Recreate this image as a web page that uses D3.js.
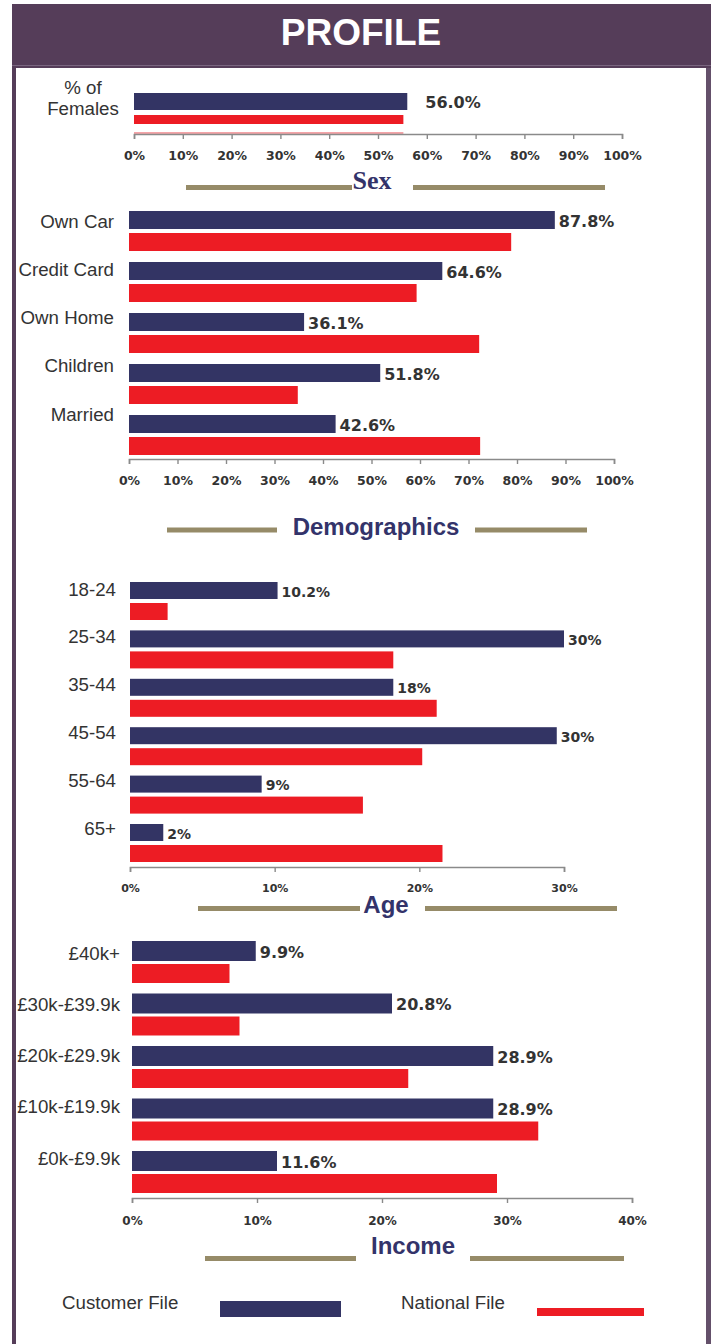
<!DOCTYPE html>
<html>
<head>
<meta charset="utf-8">
<script src="https://cdn.jsdelivr.net/npm/d3@7"></script>
<style>
  html, body { margin: 0; padding: 0; background: #ffffff; }
  svg { display: block; }
</style>
</head>
<body>
<svg id="chart" width="716" height="1344"></svg>
<script>
// ---------------- DATA ----------------
const seriesNames = ["Customer File", "National File"];

const sexCategories = ["% of Females"];
const sexCustomer = [56.0];
const sexNational = [55.2];
const sexLabels = ["56.0%"];
const sexTicks = [0, 10, 20, 30, 40, 50, 60, 70, 80, 90, 100];

const demoCategories = ["Own Car", "Credit Card", "Own Home", "Children", "Married"];
const demoCustomer = [87.8, 64.6, 36.1, 51.8, 42.6];
const demoNational = [78.8, 59.3, 72.2, 34.8, 72.4];
const demoLabels = ["87.8%", "64.6%", "36.1%", "51.8%", "42.6%"];
const demoTicks = [0, 10, 20, 30, 40, 50, 60, 70, 80, 90, 100];

const ageCategories = ["18-24", "25-34", "35-44", "45-54", "55-64", "65+"];
const ageCustomer = [10.2, 30.0, 18.2, 29.5, 9.1, 2.3];
const ageNational = [2.6, 18.2, 21.2, 20.2, 16.1, 21.6];
const ageLabels = ["10.2%", "30%", "18%", "30%", "9%", "2%"];
const ageTicks = [0, 10, 20, 30];

const incomeCategories = ["£40k+", "£30k-£39.9k", "£20k-£29.9k", "£10k-£19.9k", "£0k-£9.9k"];
const incomeCustomer = [9.9, 20.8, 28.9, 28.9, 11.6];
const incomeNational = [7.8, 8.6, 22.1, 32.5, 29.2];
const incomeLabels = ["9.9%", "20.8%", "28.9%", "28.9%", "11.6%"];
const incomeTicks = [0, 10, 20, 30, 40];

const sectionTitles = ["Sex", "Demographics", "Age", "Income"];

// ---------------- STYLE ----------------
const NAVY = "#333464";
const RED = "#ed1c24";
const KHAKI = "#968b68";
const PURPLE = "#553d59";
const TEXT = "#333333";
const SANS = "'Liberation Sans', Arial, sans-serif";
const VERD = "'DejaVu Sans', Verdana, sans-serif";
const LABEL_SIZE = 18.7;

const svg = d3.select("#chart");

// frame
svg.append("rect").attr("x", 12).attr("y", 4).attr("width", 699).attr("height", 1340).attr("fill", PURPLE);
svg.append("rect").attr("x", 16).attr("y", 68).attr("width", 690).attr("height", 1276).attr("fill", "#ffffff");
svg.append("line").attr("x1", 12).attr("x2", 711).attr("y1", 65.5).attr("y2", 65.5)
  .attr("stroke", "#7a6680").attr("stroke-width", 1);
svg.append("rect").attr("x", 706).attr("y", 68).attr("width", 5).attr("height", 1276).attr("fill", "#64506a");

svg.append("text").attr("x", 361).attr("y", 45).attr("text-anchor", "middle")
  .attr("font-family", SANS).attr("font-weight", "bold").attr("font-size", 37)
  .attr("fill", "#ffffff").text("PROFILE");

// ---------------- PANEL DRAWER ----------------
function drawPanel(cfg) {
  const g = svg.append("g");
  const x = d3.scaleLinear().domain([0, d3.max(cfg.ticks)]).range([cfg.x0, cfg.x1]);
  const y = d3.scaleBand().domain(cfg.cats).range(cfg.bandRange).paddingInner(0).paddingOuter(0);
  const ly = cfg.labelRange[0] === cfg.labelRange[1]
    ? () => cfg.labelRange[0]
    : d3.scalePoint().domain(cfg.cats).range(cfg.labelRange);

  // customer bars
  g.selectAll("rect.cust").data(cfg.cats).join("rect")
    .attr("class", "cust")
    .attr("x", x(0)).attr("y", c => y(c) + cfg.blueOff)
    .attr("width", (c, i) => x(cfg.cust[i]) - x(0))
    .attr("height", cfg.blueH).attr("fill", NAVY);

  // national bars
  g.selectAll("rect.nat").data(cfg.cats).join("rect")
    .attr("class", "nat")
    .attr("x", x(0)).attr("y", c => y(c) + cfg.redOff)
    .attr("width", (c, i) => x(cfg.nat[i]) - x(0))
    .attr("height", cfg.redH).attr("fill", RED);

  if (cfg.ghost) {
    g.selectAll("rect.ghost").data(cfg.cats).join("rect")
      .attr("class", "ghost")
      .attr("x", x(0)).attr("y", c => y(c) + cfg.ghost)
      .attr("width", (c, i) => x(cfg.nat[i]) - x(0))
      .attr("height", 2).attr("fill", "#f4a4a8");
  }

  // value labels
  g.selectAll("text.val").data(cfg.cats).join("text")
    .attr("class", "val")
    .attr("x", (c, i) => x(cfg.cust[i]) + cfg.valOff)
    .attr("y", c => y(c) + cfg.blueOff + cfg.blueH / 2 + 1)
    .attr("dominant-baseline", "central")
    .attr("font-family", VERD).attr("font-weight", "bold")
    .attr("font-size", cfg.valSize).attr("fill", TEXT)
    .text((c, i) => cfg.labels[i]);

  // category labels
  if (cfg.multiline) {
    const t = g.append("text").attr("text-anchor", "middle")
      .attr("font-family", SANS).attr("font-size", LABEL_SIZE).attr("fill", TEXT);
    cfg.multiline.forEach((line, k) => {
      t.append("tspan").attr("x", cfg.labelX).attr("y", cfg.labelRange[0] + k * 21).text(line);
    });
  } else {
    g.selectAll("text.cat").data(cfg.cats).join("text")
      .attr("class", "cat")
      .attr("x", cfg.labelX).attr("y", c => ly(c))
      .attr("text-anchor", "end").attr("dominant-baseline", "central")
      .attr("font-family", SANS).attr("font-size", LABEL_SIZE).attr("fill", TEXT)
      .text(c => c);
  }

  // axis
  const axis = d3.axisBottom(x).tickValues(cfg.ticks).tickSize(5).tickPadding(cfg.tickPad)
    .tickFormat(d => d + "%");
  const ag = g.append("g").attr("transform", `translate(0,${cfg.axisY})`).call(axis);
  ag.select(".domain").attr("stroke", "#8a8a8a").attr("stroke-width", 1.6);
  ag.selectAll(".tick line").attr("stroke", "#8a8a8a").attr("stroke-width", 1.4);
  ag.selectAll(".tick text").attr("fill", TEXT).attr("font-family", VERD)
    .attr("font-weight", "bold").attr("font-size", cfg.tickSize);
}

function drawTitle(t) {
  svg.append("rect").attr("x", t.l[0]).attr("y", t.ly - 2.5).attr("width", t.l[1] - t.l[0]).attr("height", 5).attr("fill", KHAKI);
  svg.append("rect").attr("x", t.r[0]).attr("y", t.ly - 2.5).attr("width", t.r[1] - t.r[0]).attr("height", 5).attr("fill", KHAKI);
  svg.append("text").attr("x", t.x).attr("y", t.y).attr("text-anchor", "middle")
    .attr("font-family", t.serif ? "'Liberation Serif', 'Times New Roman', serif" : SANS)
    .attr("font-weight", "bold").attr("font-size", t.size).attr("fill", "#33336a")
    .text(t.text);
}

// Sex
drawPanel({
  cats: sexCategories, cust: sexCustomer, nat: sexNational, labels: sexLabels, ticks: sexTicks,
  x0: 134, x1: 622, bandRange: [90, 134], blueOff: 3, blueH: 17, redOff: 25, redH: 9, ghost: 42,
  labelRange: [94, 94], labelX: 83, multiline: ["% of", "Females"],
  valOff: 18, valSize: 16, axisY: 134, tickPad: 12, tickSize: 12.5
});
drawTitle({ text: sectionTitles[0], x: 372, y: 189, size: 26, serif: true, ly: 187.5, l: [186, 352], r: [413, 605] });

// Demographics
drawPanel({
  cats: demoCategories, cust: demoCustomer, nat: demoNational, labels: demoLabels, ticks: demoTicks,
  x0: 129, x1: 614, bandRange: [208, 463], blueOff: 3, blueH: 18, redOff: 25, redH: 18,
  labelRange: [221, 414], labelX: 114,
  valOff: 4, valSize: 16, axisY: 459, tickPad: 12, tickSize: 12.5
});
drawTitle({ text: sectionTitles[1], x: 376, y: 535, size: 24, ly: 530, l: [167, 277], r: [475, 587] });

// Age
drawPanel({
  cats: ageCategories, cust: ageCustomer, nat: ageNational, labels: ageLabels, ticks: ageTicks,
  x0: 130, x1: 564, bandRange: [579, 869.4], blueOff: 3, blueH: 17, redOff: 24, redH: 17,
  labelRange: [589, 828], labelX: 116,
  valOff: 4, valSize: 14, axisY: 867, tickPad: 12, tickSize: 11
});
drawTitle({ text: sectionTitles[2], x: 386, y: 913, size: 24, ly: 908.5, l: [198, 360], r: [425, 617] });

// Income
drawPanel({
  cats: incomeCategories, cust: incomeCustomer, nat: incomeNational, labels: incomeLabels, ticks: incomeTicks,
  x0: 132, x1: 632, bandRange: [939, 1201.5], blueOff: 2, blueH: 20, redOff: 25, redH: 19,
  labelRange: [953, 1158], labelX: 120,
  valOff: 4, valSize: 16, axisY: 1198, tickPad: 13, tickSize: 12
});
drawTitle({ text: sectionTitles[3], x: 413, y: 1254, size: 24, ly: 1258.5, l: [205, 356], r: [470, 624] });

// Legend
const legend = svg.append("g");
const legendItems = [
  { name: seriesNames[0], tx: 62, rx: 220, rw: 121, ry: 1301, rh: 16, color: NAVY },
  { name: seriesNames[1], tx: 401, rx: 537, rw: 107, ry: 1308, rh: 8, color: RED }
];
legendItems.forEach(it => {
  legend.append("text").attr("x", it.tx).attr("y", 1309).attr("font-family", SANS)
    .attr("font-size", LABEL_SIZE).attr("fill", TEXT).text(it.name);
  legend.append("rect").attr("x", it.rx).attr("y", it.ry).attr("width", it.rw).attr("height", it.rh).attr("fill", it.color);
});
</script>
</body>
</html>
